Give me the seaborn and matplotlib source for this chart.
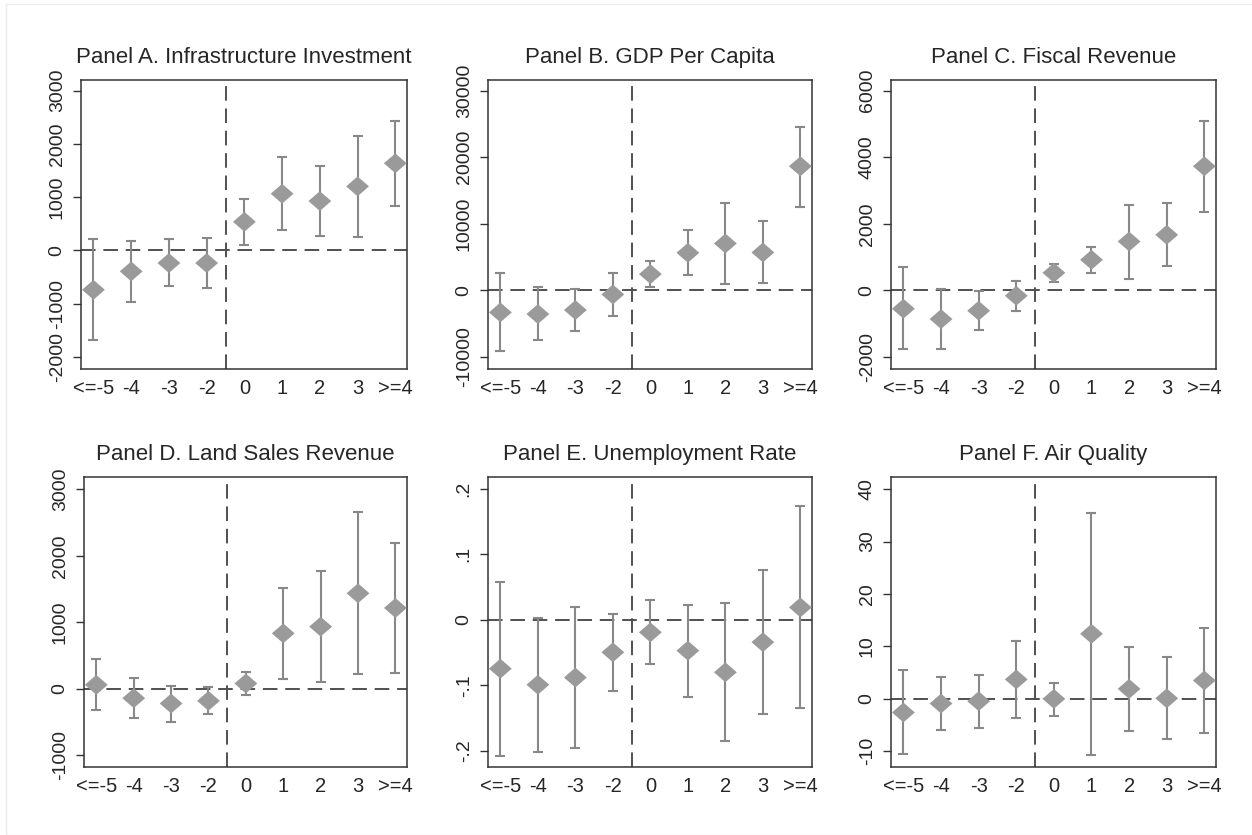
import numpy as np
import pandas as pd
import matplotlib
matplotlib.use("Agg")
import matplotlib.pyplot as plt
import seaborn as sns

# event-time categories
periods = ["<=-5", "-4", "-3", "-2", "0", "1", "2", "3", ">=4"]

# Panel A. Infrastructure Investment
infra_coef = [-742, -396, -239, -239, 535, 1063, 925, 1201, 1635]
infra_lo = [-1686, -962, -667, -704, 101, 377, 277, 252, 830]
infra_hi = [214, 170, 214, 239, 969, 1748, 1585, 2151, 2428]

# Panel B. GDP Per Capita
gdp_coef = [-3300, -3550, -2950, -600, 2450, 5650, 7050, 5700, 18650]
gdp_lo = [-9150, -7450, -6050, -3800, 500, 2300, 950, 1050, 12600]
gdp_hi = [2600, 450, 200, 2600, 4400, 9100, 13200, 10400, 24600]

# Panel C. Fiscal Revenue
fiscal_coef = [-550, -860, -610, -160, 530, 920, 1470, 1670, 3730]
fiscal_lo = [-1770, -1750, -1200, -620, 250, 520, 350, 720, 2350]
fiscal_hi = [690, 40, -10, 290, 800, 1290, 2580, 2620, 5100]

# Panel D. Land Sales Revenue
land_coef = [60, -141, -221, -181, 80, 834, 935, 1437, 1216]
land_lo = [-322, -442, -492, -382, -90, 141, 100, 221, 236]
land_hi = [447, 166, 45, 30, 246, 1523, 1769, 2653, 2191]

# Panel E. Unemployment Rate
unemp_coef = [-0.0745, -0.099, -0.088, -0.0495, -0.019, -0.047, -0.080, -0.034, 0.019]
unemp_lo = [-0.207, -0.201, -0.196, -0.108, -0.068, -0.118, -0.185, -0.144, -0.135]
unemp_hi = [0.058, 0.0036, 0.020, 0.0097, 0.030, 0.023, 0.026, 0.0755, 0.173]

# Panel F. Air Quality
air_coef = [-2.6, -0.9, -0.45, 3.7, 0.0, 12.4, 1.9, 0.1, 3.5]
air_lo = [-10.6, -5.9, -5.5, -3.7, -3.2, -10.8, -6.2, -7.7, -6.6]
air_hi = [5.5, 4.1, 4.6, 11.1, 3.1, 35.4, 9.9, 8.0, 13.5]

titles = ["Panel A. Infrastructure Investment", "Panel B. GDP Per Capita",
          "Panel C. Fiscal Revenue", "Panel D. Land Sales Revenue",
          "Panel E. Unemployment Rate", "Panel F. Air Quality"]

panels = [
    (infra_coef, infra_lo, infra_hi, (-2230, 3200), [-2000, -1000, 0, 1000, 2000, 3000], None),
    (gdp_coef, gdp_lo, gdp_hi, (-11800, 31600), [-10000, 0, 10000, 20000, 30000], None),
    (fiscal_coef, fiscal_lo, fiscal_hi, (-2360, 6320), [-2000, 0, 2000, 4000, 6000], None),
    (land_coef, land_lo, land_hi, (-1176, 3186), [-1000, 0, 1000, 2000, 3000], None),
    (unemp_coef, unemp_lo, unemp_hi, (-0.2245, 0.218), [-0.2, -0.1, 0, 0.1, 0.2],
     ["-.2", "-.1", "0", ".1", ".2"]),
    (air_coef, air_lo, air_hi, (-13.0, 42.3), [-10, 0, 10, 20, 30, 40], None),
]

# axes boxes in pixels: left, right, top, bottom
boxes = [(81, 407, 80, 369), (488, 812, 80, 369), (891, 1216, 80, 369),
         (84, 407, 477, 767), (488, 812, 477, 767), (891, 1216, 477, 767)]

sns.set_style("white")
plt.rcParams["font.family"] = ["Liberation Sans", "DejaVu Sans"]

# slightly wide diamond, like the Stata marker
diamond = [(0, 1), (1.15, 0), (0, -1), (-1.15, 0), (0, 1)]

W, H = 1252, 835
fig = plt.figure(figsize=(W / 100, H / 100), dpi=100)
fig.patches.append(plt.Rectangle((6 / W, 0), 1, 1 - 4 / H, transform=fig.transFigure,
                                 fill=False, edgecolor="#ececec", linewidth=1))

pos = np.arange(len(periods))
for (coef, lo, hi, ylim, yticks, ylabels), title, (l, r, t, b) in zip(panels, titles, boxes):
    ax = fig.add_axes([l / W, 1 - b / H, (r - l) / W, (b - t) / H])
    df = pd.DataFrame({"pos": pos, "coef": coef, "lo": lo, "hi": hi})
    ax.axhline(0, color="#505050", lw=1.4, linestyle=(0, (7.5, 4)), zorder=1)
    ax.axvline(3.5, color="#505050", lw=1.4, linestyle=(0, (7.5, 4)), zorder=1)
    ax.errorbar(df["pos"], df["coef"],
                yerr=[df["coef"] - df["lo"], df["hi"] - df["coef"]],
                fmt="none", ecolor="#888888", elinewidth=1.5, capsize=3.8, capthick=1.5, zorder=2)
    sns.scatterplot(data=df, x="pos", y="coef", marker=diamond, s=270, color="#9a9a9a",
                    edgecolor="none", ax=ax, zorder=3)
    ax.set_xlim(-0.33, 8.31)
    ax.set_ylim(*ylim)
    ax.set_xticks(pos)
    ax.set_xticklabels(periods)
    ax.set_yticks(yticks)
    ax.set_yticklabels(ylabels if ylabels else [str(v) for v in yticks], rotation=90, va="center")
    ax.tick_params(axis="x", length=0, pad=7, labelsize=14.5)
    ax.tick_params(axis="y", left=True, length=6, width=1, color="#333333", pad=5, labelsize=14)
    ax.set_xlabel("")
    ax.set_ylabel("")
    for s in ax.spines.values():
        s.set_color("#333333")
        s.set_linewidth(1.1)
    ax.set_title(title, fontsize=16, pad=12)

fig.savefig("out.png", dpi=100)
